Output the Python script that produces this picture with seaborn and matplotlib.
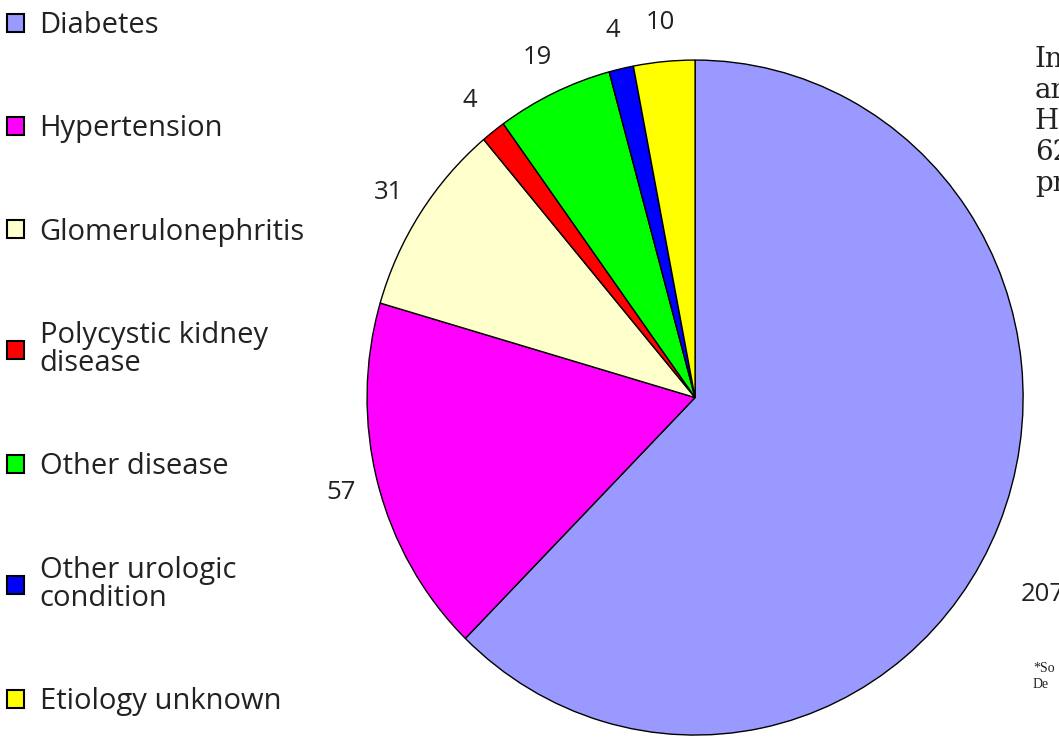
import matplotlib
matplotlib.use("Agg")
import matplotlib.pyplot as plt
import seaborn as sns

# Causes of kidney failure (counts)
causes = ["Diabetes", "Hypertension", "Glomerulonephritis",
          "Polycystic kidney\ndisease", "Other disease",
          "Other urologic\ncondition", "Etiology unknown"]
counts = [207, 57, 31, 4, 19, 4, 10]
colors = ["#9999FF", "#FF00FF", "#FFFFCC", "#FF0000", "#00FF00", "#0000FF", "#FFFF00"]

# clipped side notes visible at the right edge
side_lines = ["In", "ar", "H", "62", "pr"]
note_lines = ["*So", "De"]

sns.set_theme(style="white")
plt.rcParams["font.family"] = ["Open Sans", "DejaVu Sans"]

fig = plt.figure(figsize=(10.59, 7.38), dpi=100)
ax = fig.add_axes([0.3466, 0.004, 0.6195, 0.9146])

wedges, texts = ax.pie(counts, labels=[str(c) for c in counts], colors=colors,
                       startangle=90, counterclock=False, labeldistance=1.115,
                       wedgeprops=dict(edgecolor="black", linewidth=1),
                       textprops=dict(fontsize=18.5, color="#222222"))
ax.set_xlim(-1, 1)
ax.set_ylim(-1, 1)
ax.set_aspect("auto")
for t in texts:
    t.set_ha("center")

# the big slice label sits lower on the right
texts[0].set_position((1.06, -0.585))

leg = fig.legend(wedges, causes, loc="upper left", bbox_to_anchor=(-0.002, 0.997),
                 frameon=False, fontsize=21, labelspacing=2.55,
                 handlelength=0.58, handleheight=0.58, handletextpad=0.55,
                 borderaxespad=0.1, borderpad=0.2)
for h in leg.legend_handles:
    h.set_edgecolor("black")
    h.set_linewidth(1.5)
for t in leg.get_texts():
    t.set_color("#222222")
    t.set_linespacing(0.95)

fig.text(1035 / 1059, 1 - 46 / 738, "\n".join(side_lines), ha="left", va="top",
         fontsize=20, family="DejaVu Serif", color="#222222", linespacing=1.19)
fig.text(1033 / 1059, 1 - 662 / 738, "\n".join(note_lines), ha="left", va="top",
         fontsize=10, family="Liberation Serif", color="#222222", linespacing=1.25)

fig.savefig("out.png", dpi=100, facecolor="white")
